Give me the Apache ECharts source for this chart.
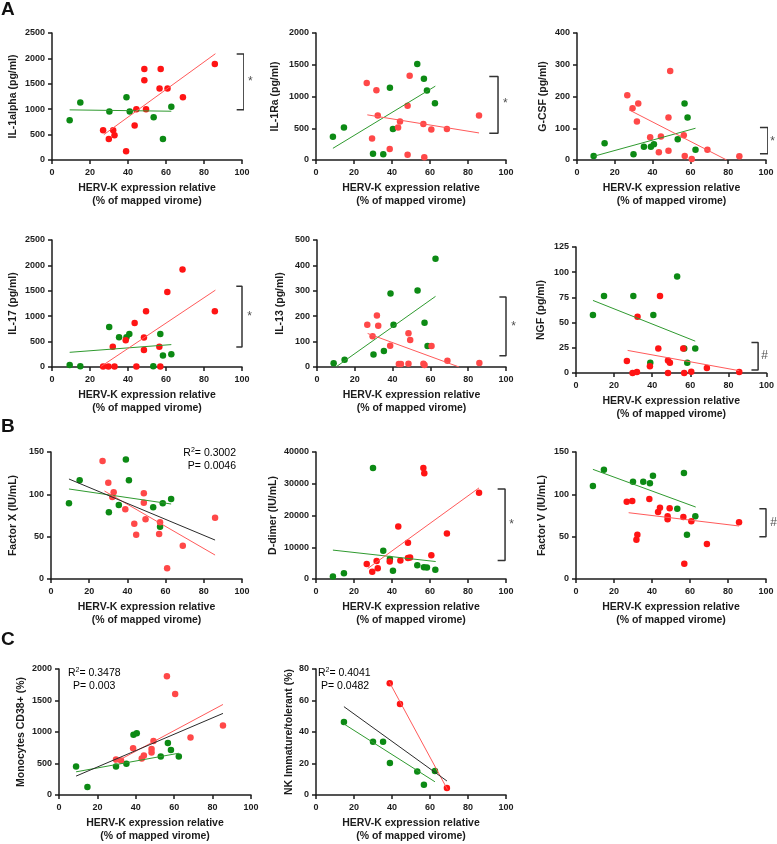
<!DOCTYPE html>
<html>
<head>
<meta charset="utf-8">
<script src="https://cdn.jsdelivr.net/npm/echarts@6/dist/echarts.min.js"></script>
<style>
  html, body { margin: 0; padding: 0; background: #fff; }
  #box { width: 777px; height: 844px; }
</style>
</head>
<body>
<div id="box"></div>
<script>
  const il1aGreen = [[9.3, 783], [14.9, 1130], [30.2, 954], [39.2, 1237], [40.9, 954], [53.5, 842], [58.4, 414], [62.8, 1046]];
  const il1aRed = [[26.9, 586], [29.9, 414], [32.2, 586], [32.9, 487], [39, 171], [43.5, 678], [44.4, 1000], [48.6, 1789], [48.6, 1572], [49.5, 1000], [56.6, 1408], [57.2, 1789], [60.8, 1408], [68.9, 1237], [85.7, 1888]];
  const il1aGreenFit = [[9.3, 987], [62.8, 960]];
  const il1aRedFit = [[27.3, 500], [86, 2092]];
  const il1aBracket = [97.2, 101, 2086, 987];
  const il1aMark = [104.4, 1546, '*'];

  const il1raGreen = [[8.9, 368], [14.7, 511], [30, 100], [35.4, 89], [38.9, 1137], [40.5, 489], [53.3, 1511], [56.8, 1279], [58.4, 1095], [62.6, 895]];
  const il1raRed = [[26.7, 1211], [29.5, 337], [31.8, 1100], [32.5, 700], [38.8, 174], [43.2, 511], [44.2, 605], [48.2, 853], [48.2, 84], [49.3, 1326], [56.5, 568], [57, 42], [60.7, 479], [68.9, 489], [85.8, 700]];
  const il1raGreenFit = [[8.9, 184], [62.8, 1163]];
  const il1raRedFit = [[27, 711], [85.8, 426]];
  const il1raBracket = [91.2, 95.8, 1316, 421];
  const il1raMark = [99.6, 879, '*'];

  const gcsfGreen = [[8.8, 12.6], [14.6, 52.6], [29.9, 17.9], [35.4, 42], [39.1, 42], [40.7, 49.5], [53.3, 65], [56.9, 178], [58.5, 134], [62.7, 32.6]];
  const gcsfRed = [[26.6, 204], [29.4, 163], [32.4, 178], [31.7, 121], [38.7, 71.6], [43.3, 24.2], [44.4, 73.7], [48.4, 134], [48.4, 29.5], [49.3, 280], [56.5, 77.9], [57, 12.6], [60.7, 3.2], [69, 32.6], [85.9, 11.6]];
  const gcsfGreenFit = [[8.8, 11.6], [62.7, 100]];
  const gcsfRedFit = [[27.5, 158], [79.2, 0]];
  const gcsfBracket = [96.8, 101, 102, 20];
  const gcsfMark = [103.5, 57, '*'];

  const il17Green = [[9.3, 39], [14.9, 13], [30.1, 789], [35.3, 586], [39.2, 586], [40.7, 651], [53.3, 13], [57, 651], [58.4, 224], [62.8, 250]];
  const il17Red = [[26.9, 10], [29.7, 10], [32, 401], [32.9, 10], [38.8, 526], [43.5, 868], [44.4, 10], [48.4, 579], [48.4, 336], [49.5, 1099], [56.5, 401], [57, 10], [60.7, 1474], [68.7, 1921], [85.7, 1099]];
  const il17GreenFit = [[9.3, 289], [62.8, 441]];
  const il17RedFit = [[25.9, 13], [86, 1513]];
  const il17Bracket = [97, 100, 1592, 395];
  const il17Mark = [104, 1000, '*'];

  const il13Green = [[8.8, 14.5], [14.6, 29], [29.9, 49], [35.4, 63], [38.9, 289], [40.5, 166], [53.2, 301], [56.9, 174], [58.5, 83], [62.7, 426]];
  const il13Red = [[26.6, 166], [29.4, 121], [31.7, 203], [32.4, 162], [38.7, 84], [43.3, 12], [44.4, 12], [48.4, 133], [48.4, 13], [49.3, 106], [56.3, 13], [56.9, 8], [60.6, 83], [69, 25], [85.9, 16]];
  const il13GreenFit = [[10, 0], [62.7, 278]];
  const il13RedFit = [[26.8, 132], [75.2, 0]];
  const il13Bracket = [96.5, 100, 276, 44];
  const il13Mark = [104, 158, '*'];

  const ngfGreen = [[8.9, 57.6], [14.7, 76.3], [30.1, 76.3], [39, 10.2], [40.6, 57.6], [53.1, 95.7], [56.8, 24.3], [58.4, 10.2], [62.6, 24.3]];
  const ngfRed = [[26.7, 11.8], [29.7, 0], [32, 1], [32.3, 55.9], [38.8, 6.6], [43.2, 24.3], [44.1, 76.3], [48.3, 12.5], [49.3, 10.2], [48.3, 0], [56.3, 24.3], [56.8, 0], [60.5, 1.3], [68.7, 4.9], [85.7, 1]];
  const ngfGreenFit = [[8.9, 72], [62.6, 31.6]];
  const ngfRedFit = [[27.1, 22.4], [85.7, 2.3]];
  const ngfBracket = [92.1, 95.6, 30.3, 3];
  const ngfMark = [99, 16.8, '#'];

  const fxGreen = [[9.4, 89.4], [15, 116.5], [30.3, 78.7], [35.5, 87.4], [39.2, 141], [40.8, 116.5], [53.5, 84.6], [57.1, 61.8], [58.5, 89.4], [62.9, 94.5]];
  const fxRed = [[27, 139.4], [30, 113.8], [32.8, 102.4], [32.1, 96.9], [38.9, 82.3], [43.6, 65.4], [44.6, 52.4], [48.6, 101.2], [48.6, 90.2], [49.5, 70.5], [56.6, 53.1], [57.1, 66.9], [60.8, 12.6], [69, 39.4], [85.9, 72.4]];
  const fxGreenFit = [[9.4, 106.3], [62.9, 88.6]];
  const fxRedFit = [[28, 103.9], [85.9, 28.3]];
  const fxAllFit = [[9.4, 118.1], [85.9, 46]];
  const fxStats = ['0.3002', '0.0046'];

  const ddGreen = [[8.9, 800], [14.7, 1800], [30, 35000], [35.4, 8900], [38.9, 6300], [40.5, 2600], [53.3, 4300], [56.8, 3700], [58.4, 3600], [62.8, 2900]];
  const ddRed = [[26.7, 4700], [29.6, 2300], [31.9, 5700], [32.5, 3400], [38.8, 5500], [43.3, 16500], [44.4, 5800], [48.4, 11400], [48.4, 6600], [49.5, 6800], [56.5, 35000], [57, 33300], [60.7, 7500], [68.9, 14300], [85.8, 27200]];
  const ddGreenFit = [[8.9, 9100], [63, 5500]];
  const ddRedFit = [[27.2, 3300], [85.8, 28700]];
  const ddBracket = [95.6, 99.5, 28350, 5800];
  const ddMark = [103, 17100, '*'];

  const fvGreen = [[8.9, 109.8], [14.7, 129.1], [30, 115], [35.4, 115], [38.9, 113], [40.5, 122], [53.3, 83.1], [56.8, 125.2], [58.4, 52.4], [62.8, 74]];
  const fvRed = [[26.7, 91.3], [29.6, 92.1], [31.8, 46.5], [32.3, 52.4], [38.6, 94.5], [43.2, 79.1], [44.2, 84.3], [48.2, 74], [48.2, 70.5], [49.3, 83.5], [56.5, 73.2], [57, 18.1], [60.7, 68.1], [68.9, 41.3], [85.8, 66.9]];
  const fvGreenFit = [[8.9, 129.5], [63, 85]];
  const fvRedFit = [[27.7, 78.3], [85.8, 62.6]];
  const fvBracket = [96.5, 100, 83, 50];
  const fvMark = [104, 67, '#'];

  const monoGreen = [[8.9, 453], [14.8, 126], [29.7, 453], [35.1, 495], [38.8, 958], [40.5, 979], [53, 611], [56.7, 826], [58.3, 716], [62.4, 611]];
  const monoRed = [[29.7, 563], [32.3, 547], [38.6, 742], [43.1, 579], [44.2, 626], [48.2, 732], [48.2, 674], [49.2, 858], [56.2, 1884], [60.5, 1605], [68.5, 911], [85.4, 1105]];
  const monoGreenFit = [[8.9, 368], [62.4, 663]];
  const monoRedFit = [[29, 516], [85.4, 1437]];
  const monoAllFit = [[8.9, 300], [85.4, 1295]];
  const monoStats = ['0.3478', '0.003'];

  const nkGreen = [[14.7, 46.4], [30, 33.8], [35.3, 33.8], [38.9, 20.3], [53.3, 15], [56.8, 6.5], [62.6, 15.2]];
  const nkRed = [[38.8, 70.9], [44.2, 57.8], [68.9, 4.4]];
  const nkGreenFit = [[14.7, 45.1], [62.6, 8.4]];
  const nkRedFit = [[38.6, 71.7], [69.2, 3.5]];
  const nkAllFit = [[14.7, 56.1], [68.9, 8.9]];
  const nkStats = ['0.4041', '0.0482'];

  const xTitle = 'HERV-K expression relative\n(% of mapped virome)';
  const ink = '#1c1c1c';
  const font = 'Liberation Sans, Arial, sans-serif';

  const panels = [
    { pos: [52, 33, 190, 127], yName: 'IL-1alpha (pg/ml)', yMax: 2500, yInt: 500, gap: 33, red: '#ff1414',
      green: il1aGreen, redPts: il1aRed, fits: [[il1aGreenFit, 'g'], [il1aRedFit, 'r']], bracket: il1aBracket, mark: il1aMark },
    { pos: [316, 33, 190, 127], yName: 'IL-1Ra (pg/ml)', yMax: 2000, yInt: 500, gap: 35, red: '#ff4848',
      green: il1raGreen, redPts: il1raRed, fits: [[il1raGreenFit, 'g'], [il1raRedFit, 'r']], bracket: il1raBracket, mark: il1raMark },
    { pos: [577, 33, 189, 127], yName: 'G-CSF (pg/ml)', yMax: 400, yInt: 100, gap: 28, red: '#ff4848',
      green: gcsfGreen, redPts: gcsfRed, fits: [[gcsfGreenFit, 'g'], [gcsfRedFit, 'r']], bracket: gcsfBracket, mark: gcsfMark },
    { pos: [52, 240, 190, 127], yName: 'IL-17 (pg/ml)', yMax: 2500, yInt: 500, gap: 33, red: '#ff1414',
      green: il17Green, redPts: il17Red, fits: [[il17GreenFit, 'g'], [il17RedFit, 'r']], bracket: il17Bracket, mark: il17Mark },
    { pos: [317, 240, 189, 127], yName: 'IL-13 (pg/ml)', yMax: 500, yInt: 100, gap: 31, red: '#ff4848',
      green: il13Green, redPts: il13Red, fits: [[il13GreenFit, 'g'], [il13RedFit, 'r']], bracket: il13Bracket, mark: il13Mark },
    { pos: [576, 247, 191, 126], yName: 'NGF (pg/ml)', yMax: 125, yInt: 25, gap: 29, red: '#ff1414',
      green: ngfGreen, redPts: ngfRed, fits: [[ngfGreenFit, 'g'], [ngfRedFit, 'r']], bracket: ngfBracket, mark: ngfMark },
    { pos: [51, 452, 191, 127], yName: 'Factor X (IU/mL)', yMax: 150, yInt: 50, gap: 32, red: '#ff4848',
      green: fxGreen, redPts: fxRed, fits: [[fxGreenFit, 'g'], [fxRedFit, 'r'], [fxAllFit, 'k']] },
    { pos: [316, 452, 190, 127], yName: 'D-dimer (IU/mL)', yMax: 40000, yInt: 10000, gap: 37, red: '#ff1414',
      green: ddGreen, redPts: ddRed, fits: [[ddGreenFit, 'g'], [ddRedFit, 'r']], bracket: ddBracket, mark: ddMark },
    { pos: [576, 452, 190, 127], yName: 'Factor V (IU/mL)', yMax: 150, yInt: 50, gap: 28, red: '#ff1414',
      green: fvGreen, redPts: fvRed, fits: [[fvGreenFit, 'g'], [fvRedFit, 'r']], bracket: fvBracket, mark: fvMark },
    { pos: [59, 669, 192, 127], yName: 'Monocytes CD38+ (%)', yMax: 2000, yInt: 500, gap: 32, red: '#ff4848',
      green: monoGreen, redPts: monoRed, fits: [[monoRedFit, 'r'], [monoGreenFit, 'g'], [monoAllFit, 'k']] },
    { pos: [316, 669, 190, 127], yName: 'NK Immature/tolerant (%)', yMax: 80, yInt: 20, gap: 20, red: '#ff1414',
      green: nkGreen, redPts: nkRed, fits: [[nkRedFit, 'r'], [nkGreenFit, 'g'], [nkAllFit, 'k']] },
  ];

  const fitColors = { g: '#2f9a2f', r: '#ff5a5a', k: '#2a2a2a' };

  const grid = [], xAxis = [], yAxis = [], series = [];
  panels.forEach((p, i) => {
    grid.push({ left: p.pos[0], top: p.pos[1], width: p.pos[2], height: p.pos[3] });
    xAxis.push({
      gridIndex: i, type: 'value', min: 0, max: 100, interval: 20,
      name: xTitle, nameLocation: 'middle', nameGap: 21,
      nameTextStyle: { fontSize: 10.5, fontWeight: 'bold', color: ink, lineHeight: 13.5, fontFamily: font },
      axisLine: { lineStyle: { color: ink, width: 1.5 } },
      axisTick: { length: 4, lineStyle: { color: ink, width: 1.5 } },
      axisLabel: { fontSize: 9, fontWeight: 'bold', color: ink, margin: 8, fontFamily: font },
      splitLine: { show: false },
    });
    yAxis.push({
      gridIndex: i, type: 'value', min: 0, max: p.yMax, interval: p.yInt,
      name: p.yName, nameLocation: 'middle', nameGap: p.gap, nameRotate: 90,
      nameTextStyle: { fontSize: 10.5, fontWeight: 'bold', color: ink, fontFamily: font },
      axisLine: { show: true, lineStyle: { color: ink, width: 1.5 } },
      axisTick: { show: true, length: 4, lineStyle: { color: ink, width: 1.5 } },
      axisLabel: { fontSize: 9, fontWeight: 'bold', color: ink, margin: 7, fontFamily: font, formatter: (v) => String(v) },
      splitLine: { show: false },
    });
    series.push({
      type: 'scatter', xAxisIndex: i, yAxisIndex: i, data: p.green,
      symbolSize: 6.5, itemStyle: { color: '#0c8a14', opacity: 1 }, z: 2,
    });
    series.push({
      type: 'scatter', xAxisIndex: i, yAxisIndex: i, data: p.redPts,
      symbolSize: 6.5, itemStyle: { color: p.red, opacity: 1 }, z: 3,
    });
    p.fits.forEach(([pts, c]) => {
      series.push({
        type: 'line', xAxisIndex: i, yAxisIndex: i, data: pts, symbol: 'none', silent: true,
        lineStyle: { color: fitColors[c], width: 1 }, z: 4,
      });
    });
    if (p.bracket) {
      const b = p.bracket;
      series.push({
        type: 'line', xAxisIndex: i, yAxisIndex: i, clip: false, symbol: 'none', silent: true,
        data: [[b[0], b[2]], [b[1], b[2]], [b[1], b[3]], [b[0], b[3]]],
        lineStyle: { color: '#333', width: 1.5 }, z: 4,
      });
      series.push({
        type: 'scatter', xAxisIndex: i, yAxisIndex: i, clip: false, silent: true,
        data: [[p.mark[0], p.mark[1]]], symbolSize: 1, itemStyle: { color: 'rgba(0,0,0,0)' },
        label: { show: true, position: 'inside', formatter: p.mark[2], fontSize: p.mark[2] === '#' ? 12 : 12, color: ink, fontFamily: font },
      });
    }
  });

  const statRich = {
    a: { fontSize: 10.5, color: ink, fontFamily: font },
    sup: { fontSize: 7, color: ink, fontFamily: font, padding: [0, 0, 6, 0] },
  };
  function stat(x, y, align, txt) {
    return { type: 'text', x: x, y: y, style: { text: txt, rich: statRich, align: align, verticalAlign: 'middle' } };
  }
  const letter = (t, y) => ({ type: 'text', x: 1, y: y, style: { text: t, fontSize: 19, fontWeight: 'bold', fill: '#111', fontFamily: font, verticalAlign: 'middle' } });

  const graphic = [
    letter('A', 10), letter('B', 427), letter('C', 640),
    stat(236, 453, 'right', '{a|R}{sup|2}{a|= ' + fxStats[0] + '}'),
    stat(236, 466, 'right', '{a|P= ' + fxStats[1] + '}'),
    stat(68, 673, 'left', '{a|R}{sup|2}{a|= ' + monoStats[0] + '}'),
    stat(73, 686, 'left', '{a|P= ' + monoStats[1] + '}'),
    stat(318, 673, 'left', '{a|R}{sup|2}{a|= ' + nkStats[0] + '}'),
    stat(321, 686, 'left', '{a|P= ' + nkStats[1] + '}'),
  ];

  const chart = echarts.init(document.getElementById('box'));
  chart.setOption({
    animation: false,
    backgroundColor: '#fff',
    textStyle: { fontFamily: font },
    grid, xAxis, yAxis, series, graphic,
  });
</script>
</body>
</html>
